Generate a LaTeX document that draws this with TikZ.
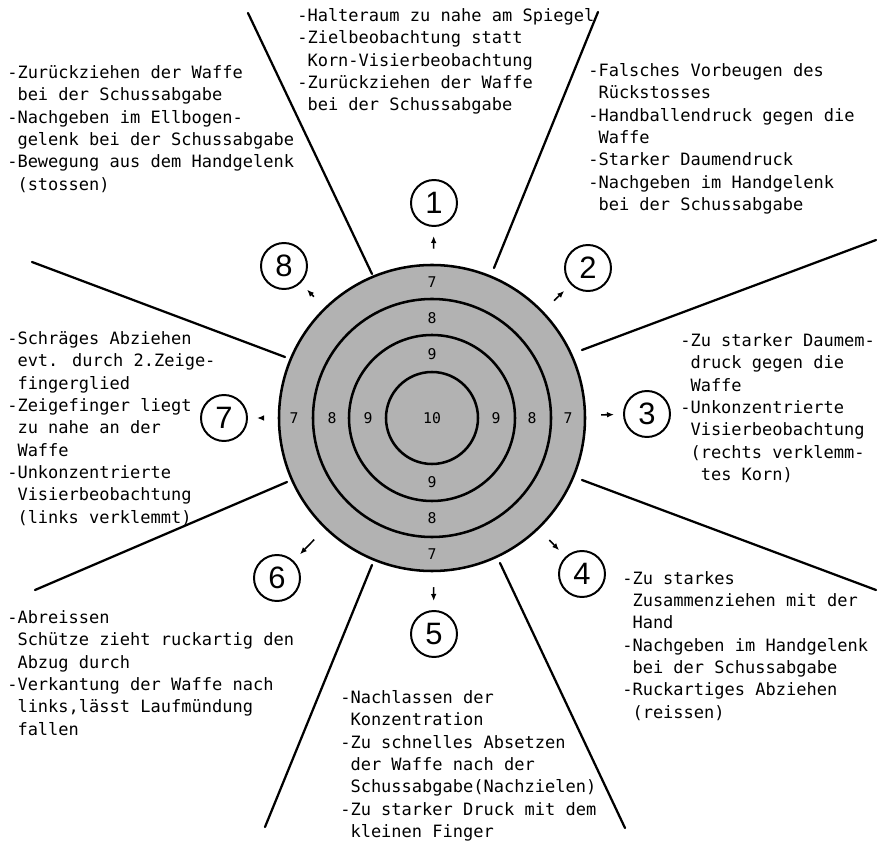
\documentclass[tikz,border=0pt]{standalone}
\usepackage{fontspec}
\usepackage{tikz}
\usetikzlibrary{arrows.meta}
\newfontfamily\maschine{DejaVu Sans Mono}
\newfontfamily\ziffer{Liberation Sans}
\newcommand{\ind}{\hphantom{-}}
\definecolor{rasterGrau}{RGB}{178,178,178}

\begin{document}
\begin{tikzpicture}[
    ring/.style={circle, draw=black, fill=rasterGrau, line width=1.8pt, inner sep=0pt},
    wert/.style={font=\maschine\fontsize{10.5}{12}\selectfont, inner sep=1pt},
    nummer/.style={circle, draw=black, line width=1.4pt, minimum size=1.15cm, inner sep=0pt, font=\ziffer\fontsize{22}{24}\selectfont},
    fehler/.style={anchor=north west, align=left, inner sep=0pt, font=\maschine\fontsize{12.1}{15.9}\selectfont},
    trenn/.style={line width=1.6pt, line cap=round},
    pfeil/.style={line width=1.1pt, -{Latex[length=5pt, width=4pt]}, shorten <=0.375cm, shorten >=0.225cm}
]
    \useasboundingbox (-10.8,-10.575) rectangle (11.175,10.45);

    \node[ring, minimum size=7.65cm] (ziel) at (0, 0) {};
    \node[ring, minimum size=5.95cm] (ring8) at (0, 0) {};
    \node[ring, minimum size=4.15cm] (ring9) at (0, 0) {};
    \node[ring, minimum size=2.3cm] (ring10) at (0, 0) {};

    \node[wert] (w10) at (0, 0) {10};
    \node[wert] (w9o) at (0, 1.6) {9};
    \node[wert] (w8o) at (0, 2.5) {8};
    \node[wert] (w7o) at (0, 3.4) {7};
    \node[wert] (w9u) at (0, -1.6) {9};
    \node[wert] (w8u) at (0, -2.5) {8};
    \node[wert] (w7u) at (0, -3.4) {7};
    \node[wert] (w9l) at (-1.6, 0) {9};
    \node[wert] (w8l) at (-2.5, 0) {8};
    \node[wert] (w7l) at (-3.45, 0) {7};
    \node[wert] (w9r) at (1.6, 0) {9};
    \node[wert] (w8r) at (2.5, 0) {8};
    \node[wert] (w7r) at (3.4, 0) {7};

    \node[nummer] (n1) at (0.05, 5.375) {1};
    \node[nummer] (n2) at (3.9, 3.75) {2};
    \node[nummer] (n3) at (5.375, 0.1) {3};
    \node[nummer] (n4) at (3.75, -3.9) {4};
    \node[nummer] (n5) at (0.05, -5.4) {5};
    \node[nummer] (n6) at (-3.875, -4.0) {6};
    \node[nummer] (n7) at (-5.2, 0) {7};
    \node[nummer] (n8) at (-3.7, 3.8) {8};

    \draw[pfeil] (ziel) -- (n1);
    \draw[pfeil] (ziel) -- (n2);
    \draw[pfeil] (ziel) -- (n3);
    \draw[pfeil] (ziel) -- (n4);
    \draw[pfeil] (ziel) -- (n5);
    \draw[pfeil] (ziel) -- (n6);
    \draw[pfeil] (ziel) -- (n7);
    \draw[pfeil] (ziel) -- (n8);

    \draw[trenn] (-4.6, 10.125) -- (-1.5, 3.6);
    \draw[trenn] (4.15, 10.15) -- (1.55, 3.75);
    \draw[trenn] (3.75, 1.7) -- (11.1, 4.45);
    \draw[trenn] (3.75, -1.55) -- (11.1, -4.3);
    \draw[trenn] (1.7, -3.625) -- (4.825, -10.25);
    \draw[trenn] (-1.5, -3.675) -- (-4.175, -10.225);
    \draw[trenn] (-3.625, -1.6) -- (-9.925, -4.3);
    \draw[trenn] (-10.0, 3.9) -- (-3.675, 1.525);

    \node[fehler] (f1) at (-3.375, 10.245) {-Halteraum zu nahe am Spiegel\\-Zielbeobachtung statt\\\ind Korn-Visierbeobachtung\\-Zurückziehen der Waffe\\\ind bei der Schussabgabe};
    \node[fehler] (f2) at (3.9, 8.87) {-Falsches Vorbeugen des\\\ind Rückstosses\\-Handballendruck gegen die\\\ind Waffe\\-Starker Daumendruck\\-Nachgeben im Handgelenk\\\ind bei der Schussabgabe};
    \node[fehler] (f3) at (6.2, 2.12) {-Zu starker Daumem-\\\ind druck gegen die\\\ind Waffe\\-Unkonzentrierte\\\ind Visierbeobachtung\\\ind (rechts verklemm-\\\ind\ind tes Korn)};
    \node[fehler] (f4) at (4.75, -3.825) {-Zu starkes\\\ind Zusammenziehen mit der\\\ind Hand\\-Nachgeben im Handgelenk\\\ind bei der Schussabgabe\\-Ruckartiges Abziehen\\\ind (reissen)};
    \node[fehler] (f5) at (-2.3, -6.805) {-Nachlassen der\\\ind Konzentration\\-Zu schnelles Absetzen\\\ind der Waffe nach der\\\ind Schussabgabe(Nachzielen)\\-Zu starker Druck mit dem\\\ind kleinen Finger};
    \node[fehler] (f6) at (-10.625, -4.805) {-Abreissen\\\ind Schütze zieht ruckartig den\\\ind Abzug durch\\-Verkantung der Waffe nach\\\ind links,lässt Laufmündung\\\ind fallen};
    \node[fehler] (f7) at (-10.625, 2.17) {-Schräges Abziehen\\\ind evt. durch 2.Zeige-\\\ind fingerglied\\-Zeigefinger liegt\\\ind zu nahe an der\\\ind Waffe\\-Unkonzentrierte\\\ind Visierbeobachtung\\\ind (links verklemmt)};
    \node[fehler] (f8) at (-10.625, 8.82) {-Zurückziehen der Waffe\\\ind bei der Schussabgabe\\-Nachgeben im Ellbogen-\\\ind gelenk bei der Schussabgabe\\-Bewegung aus dem Handgelenk\\\ind (stossen)};
\end{tikzpicture}
\end{document}
